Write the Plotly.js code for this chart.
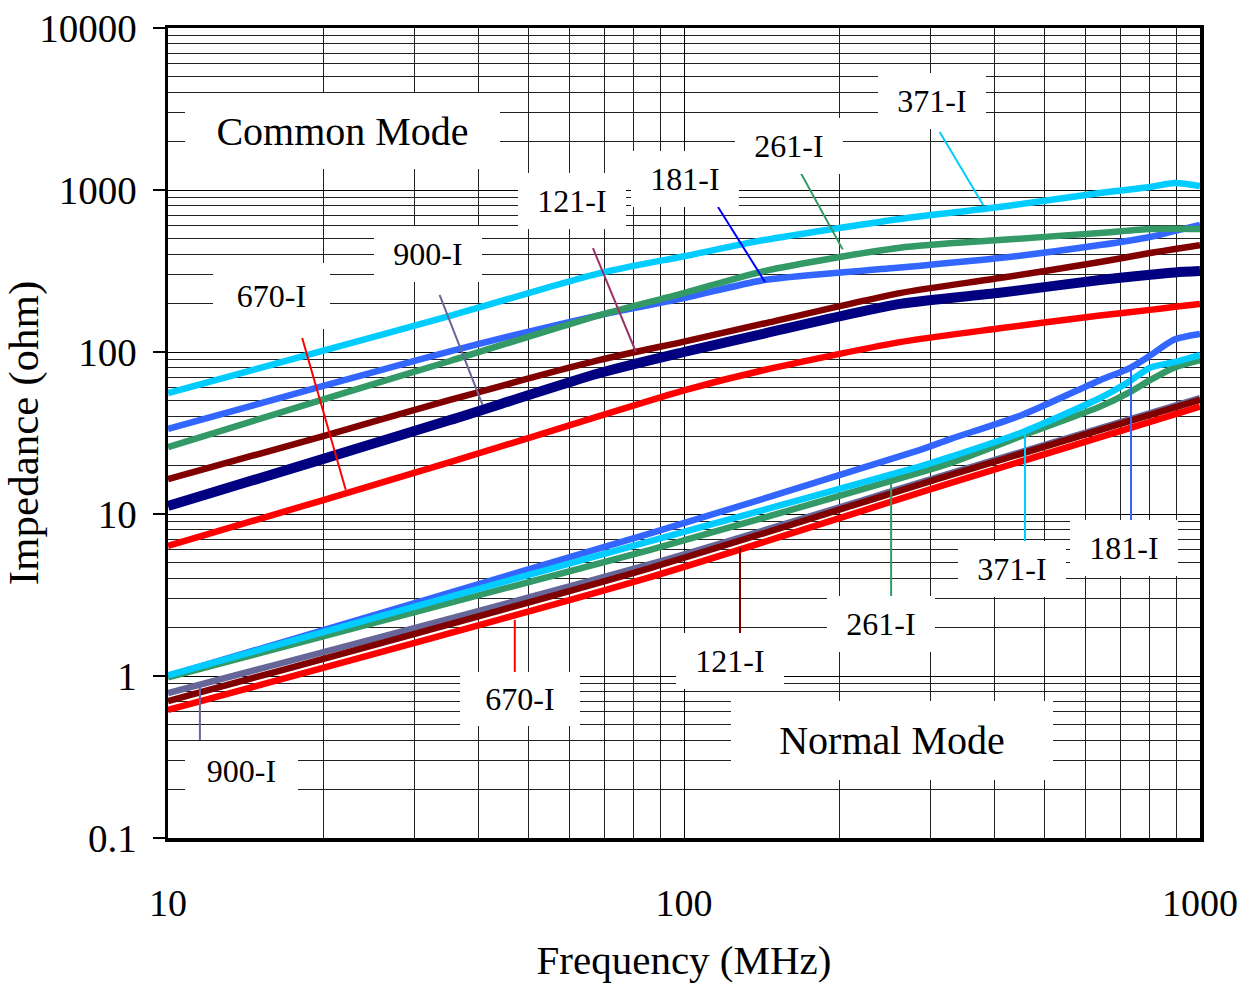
<!DOCTYPE html>
<html><head><meta charset="utf-8">
<script src="https://cdn.plot.ly/plotly-3.0.1.min.js"></script>
<style>html,body{margin:0;padding:0;background:#fff}</style>
</head><body><div id="chart" style="width:1251px;height:984px"></div>
<script>
// ---- Common mode data (frequency MHz, impedance ohm) ----
const freqCM = [10, 20, 35.2, 68.7, 100, 143, 262, 409, 640, 800, 895, 1000];
const cm371 = [55.8, 102, 167, 307, 390, 491, 662, 785, 958, 1044, 1104, 1059];
const cm181 = [33.5, 61.7, 101, 169, 215, 278, 332, 380, 457, 513, 560, 608];
const cm261 = [25.9, 51, 88, 169, 231, 316, 440, 491, 543, 574, 576, 574];
const cm121 = [16.4, 30.3, 50.6, 89.3, 116, 150, 231, 286, 359, 408, 432, 457];
const cm900 = [11.2, 21.9, 38, 74.2, 100, 130, 198, 232, 278, 300, 310, 316];
const cm670 = [6.35, 12.2, 20.9, 40.3, 58, 77.4, 115, 140, 168, 182, 190, 198];

// ---- Normal mode data ----
const freqNM = [10, 86, 286, 328, 453, 640, 731, 800, 890, 1000];
const nm181 = [1.0, 7.6, 24.8, 29, 41, 67, 79.6, 95, 119, 129];
const nm371 = [1.01, 6.8, 19.6, 22.5, 32, 52, 66, 80, 86.5, 95.8];
const nm261 = [0.98, 6.0, 18, 20.6, 30.5, 46, 56.5, 67, 80, 89];
const freqNMs = [10, 86, 328, 1000];
const nm121 = [0.70, 4.64, 17.4, 50.6];
const nm900 = [0.785, 4.9, 17.8, 52];
const nm670 = [0.617, 4.08, 15.5, 46];

// ---- axis ticks ----
const yTickVals = [0.1, 1, 10, 100, 1000, 10000];
const yTickText = ['0.1', '1', '10', '100', '1000', '10000'];
const yMinor = [0.2,0.3,0.4,0.5,0.6,0.7,0.8,0.9, 2,3,4,5,6,7,8,9, 20,30,40,50,60,70,80,90,
  200,300,400,500,600,700,800,900, 2000,3000,4000,5000,6000,7000,8000,9000];
const xTickVals = [10, 100, 1000];
const xTickText = ['10', '100', '1000'];
const xMinor = [20,30,40,50,60,70,80,90, 200,300,400,500,600,700,800,900];

const C = {c371:'#00CCFF', c181:'#3366FF', c261:'#339966', c121:'#800000', c900:'#000080', c670:'#FF0000', slate:'#666699'};

function tr(x, y, color, width) {
  return {x: x, y: y, type: 'scatter', mode: 'lines', hoverinfo: 'skip',
    line: {color: color, width: width, shape: 'spline', smoothing: 0.7}};
}

const data = [
  tr(freqCM, cm670, C.c670, 6.5),
  tr(freqCM, cm900, C.c900, 10),
  tr(freqCM, cm121, C.c121, 6.5),
  tr(freqCM, cm181, C.c181, 6.5),
  tr(freqCM, cm261, C.c261, 6.5),
  tr(freqCM, cm371, C.c371, 6.5),
  tr(freqNMs, nm670, C.c670, 6.5),
  tr(freqNMs, nm900, C.slate, 6.5),
  tr(freqNMs, nm121, C.c121, 6.5),
  tr(freqNM, nm181, C.c181, 6.5),
  tr(freqNM, nm261, C.c261, 6.5),
  tr(freqNM, nm371, C.c371, 6.5)
];

const serif = '"Liberation Serif", "Times New Roman", serif';
const L = Math.log10;

// label annotation (position given as frequency / impedance, converted to log units)
function lab(text, f, z, w, h, size) {
  return {text: text, x: L(f), y: L(z), xref: 'x', yref: 'y', showarrow: false,
    bgcolor: '#ffffff', borderpad: 0, borderwidth: 0, width: w, height: h,
    font: {family: serif, size: size, color: '#000'}};
}
function ptr(f0, z0, f1, z1, color) {
  return {type: 'line', xref: 'x', yref: 'y', x0: f0, y0: z0, x1: f1, y1: z1,
    line: {color: color, width: 2}, layer: 'above'};
}

const annotations = [
  lab('Common Mode', 21.74, 2313, 315, 76, 40),
  lab('Normal Mode', 253, 0.4026, 322, 79, 40),
  lab('371-I', 302.4, 3544, 108, 56, 32),
  lab('261-I', 159.8, 1869, 108, 56, 32),
  lab('181-I', 100.4, 1169, 108, 56, 32),
  lab('121-I', 60.7, 855, 108, 56, 32),
  lab('900-I', 31.9, 402.6, 108, 56, 32),
  lab('670-I', 15.9, 221.6, 117, 66, 32),
  lab('371-I', 432.3, 4.576, 108, 56, 32),
  lab('181-I', 712.4, 6.168, 108, 56, 32),
  lab('261-I', 240.9, 2.094, 108, 56, 32),
  lab('121-I', 122.8, 1.238, 108, 56, 32),
  lab('670-I', 48.1, 0.721, 120, 54, 32),
  lab('900-I', 13.91, 0.2593, 113, 58, 32)
];

const shapes = [
  ptr(18.2, 122, 22.1, 14.1, C.c670),
  ptr(33.6, 225, 40.7, 47.1, C.slate),
  ptr(66.6, 438, 80.7, 100, '#993366'),
  ptr(116.4, 785, 143.6, 270, '#0000FF'),
  ptr(168, 1291, 203, 430, C.c261),
  ptr(313, 2280, 380, 807, C.c371),
  ptr(11.53, 0.86, 11.53, 0.403, C.slate),
  ptr(47.0, 2.22, 47.0, 1.06, C.c670),
  ptr(128.4, 6.17, 128.4, 1.84, C.c121),
  ptr(252, 16.2, 252, 3.07, C.c261),
  ptr(458, 31.6, 458, 6.62, C.c371),
  ptr(735, 79.6, 735, 9.19, C.c181)
];

const layout = {
  width: 1251, height: 984,
  margin: {l: 168, r: 51, t: 28, b: 146},
  paper_bgcolor: '#ffffff', plot_bgcolor: '#ffffff',
  showlegend: false,
  font: {family: serif, color: '#000'},
  xaxis: {
    type: 'log', range: [1, 3], autorange: false,
    tickmode: 'array', tickvals: xTickVals, ticktext: xTickText,
    tickfont: {family: serif, size: 38, color: '#000'},
    ticks: '', ticklabelstandoff: 29,
    showline: true, linecolor: '#000', linewidth: 3.5, mirror: true,
    showgrid: true, gridcolor: '#000', gridwidth: 1,
    minor: {tickmode: 'array', tickvals: xMinor, showgrid: true, gridcolor: '#222', gridwidth: 1, ticks: ''},
    zeroline: false,
    title: {text: 'Frequency (MHz)', font: {family: serif, size: 41, color: '#000'}, standoff: 23}
  },
  yaxis: {
    type: 'log', range: [-1, 4], autorange: false,
    tickmode: 'array', tickvals: yTickVals, ticktext: yTickText,
    tickfont: {family: serif, size: 39, color: '#000'},
    ticks: 'outside', ticklen: 12, tickwidth: 1.5, tickcolor: '#000', ticklabelstandoff: 8,
    showline: true, linecolor: '#000', linewidth: 3.5, mirror: true,
    showgrid: true, gridcolor: '#000', gridwidth: 1,
    minor: {tickmode: 'array', tickvals: yMinor, showgrid: true, gridcolor: '#222', gridwidth: 1, ticks: ''},
    zeroline: false,
    title: {text: 'Impedance (ohm)', font: {family: serif, size: 43, color: '#000'}, standoff: 0}
  },
  annotations: annotations,
  shapes: shapes
};

Plotly.newPlot('chart', data, layout, {staticPlot: true, displayModeBar: false});
</script>
</body></html>
